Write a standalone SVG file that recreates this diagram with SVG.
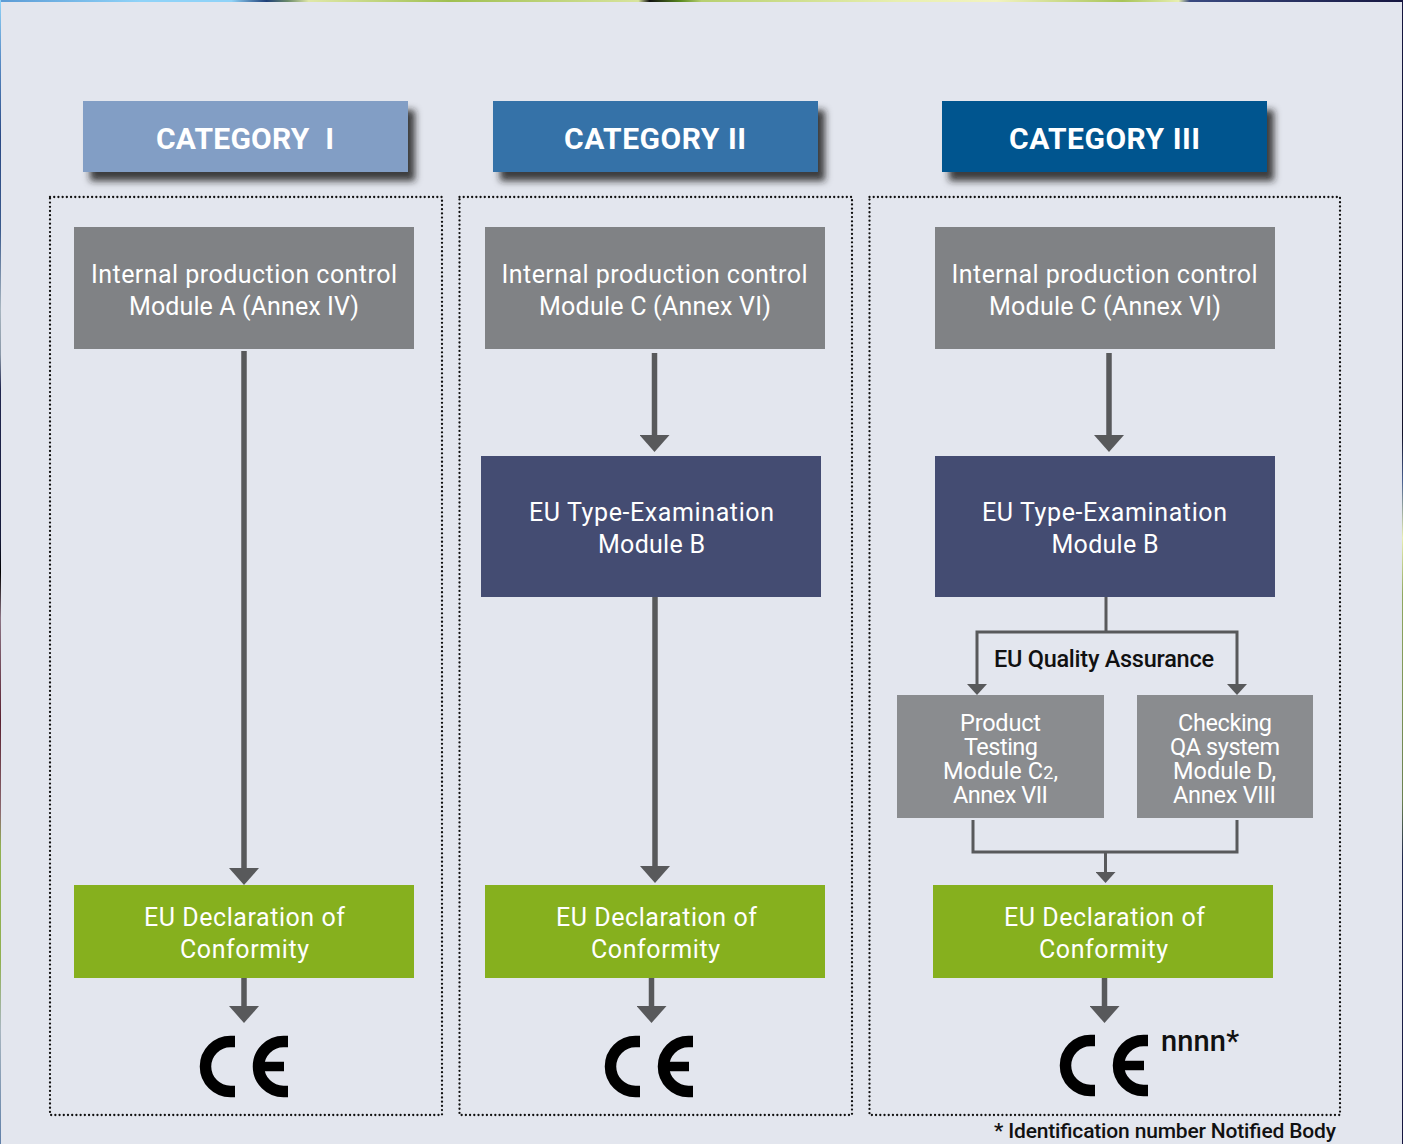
<svg xmlns="http://www.w3.org/2000/svg" width="1403" height="1144" viewBox="0 0 1403 1144">
<style>
text{font-family:Roboto,"Noto Sans","Liberation Sans",sans-serif;text-anchor:middle;fill:#fff;font-size:25px}
.cat{font-weight:700;font-size:30px}
.sm{font-size:23.500px}
.dark{fill:#111;font-weight:500}
.start{text-anchor:start}
.dots{fill:none;stroke:#111;stroke-width:2.300;stroke-linecap:round;stroke-dasharray:.01 4.200}
.grey{fill:#808285}.blue{fill:#444c72}.green{fill:#86b01e}.lgrey{fill:#8a8c8f}
.big{fill:none;stroke:#58595b;stroke-width:5.500;marker-end:url(#hl)}
.thin{fill:none;stroke:#58595b;stroke-width:3}
.tha{marker-end:url(#hs)}
.ce{fill:none;stroke:#000;stroke-width:11.500}
</style>
<defs>
<linearGradient id="gt"><stop offset="0" stop-color="#5b9bd5"/><stop offset=".1" stop-color="#8fd3f8"/><stop offset=".165" stop-color="#8fd3f8"/><stop offset=".19" stop-color="#1f3f78"/><stop offset=".205" stop-color="#6a8a6a"/><stop offset=".22" stop-color="#e0e8a8"/><stop offset=".32" stop-color="#9fbf50"/><stop offset=".455" stop-color="#d8e49c"/><stop offset=".463" stop-color="#111"/><stop offset=".485" stop-color="#5a8a20"/><stop offset=".5" stop-color="#b8d070"/><stop offset=".64" stop-color="#e8efb0"/><stop offset=".71" stop-color="#f2f3c0"/><stop offset=".8" stop-color="#a8c458"/><stop offset=".84" stop-color="#e8efb0"/><stop offset=".848" stop-color="#3a4a80"/><stop offset="1" stop-color="#161640"/></linearGradient>
<linearGradient id="gl" x1="0" y1="0" x2="0" y2="1"><stop offset="0" stop-color="#8fd3f8"/><stop offset=".05" stop-color="#5b8fc8"/><stop offset=".12" stop-color="#2b4a85"/><stop offset=".2" stop-color="#3a5a8c"/><stop offset=".27" stop-color="#a8b6c0"/><stop offset=".31" stop-color="#8a98a8"/><stop offset=".34" stop-color="#20264f"/><stop offset=".47" stop-color="#151a3a"/><stop offset=".5" stop-color="#000"/><stop offset=".54" stop-color="#8d7585"/><stop offset=".63" stop-color="#5a2030"/><stop offset=".71" stop-color="#8d6a70"/><stop offset=".74" stop-color="#90b050"/><stop offset=".84" stop-color="#90b050"/><stop offset=".9" stop-color="#a8b6c0"/><stop offset="1" stop-color="#5f7fa8"/></linearGradient>
<linearGradient id="gr" x1="0" y1="0" x2="0" y2="1"><stop offset="0" stop-color="#161640"/><stop offset=".38" stop-color="#12122a"/><stop offset=".42" stop-color="#4a6090"/><stop offset=".47" stop-color="#e8efb0"/><stop offset=".52" stop-color="#90a860"/><stop offset=".7" stop-color="#6a8050"/><stop offset=".75" stop-color="#20284f"/><stop offset="1" stop-color="#161640"/></linearGradient>
<filter id="sh" x="-10%" y="-20%" width="125%" height="160%"><feDropShadow dx="7" dy="9" stdDeviation="3.500" flood-color="#222" flood-opacity=".85"/></filter>
<marker id="hl" markerUnits="userSpaceOnUse" viewBox="0 0 17 30" markerWidth="17" markerHeight="30" refX="0" refY="15" orient="auto"><path d="M0 0L17 15L0 30z" fill="#58595b"/></marker>
<marker id="hs" markerUnits="userSpaceOnUse" viewBox="0 0 11 20" markerWidth="11" markerHeight="20" refX="0" refY="10" orient="auto"><path d="M0 0L11 10L0 20z" fill="#58595b"/></marker>
<g id="ce"><path class="ce" d="M35 5.500H30.500A25 25 0 0 0 30.500 55.500H35"/><path class="ce" d="M88 5.500H83.500A25 25 0 0 0 83.500 55.500H88"/><path d="M62 30.500H84" fill="none" stroke="#000" stroke-width="9.500"/></g>
</defs>
<rect width="1403" height="1144" fill="#e3e6ee"/>
<rect width="1403" height="2" fill="url(#gt)"/>
<rect width="1" height="1144" fill="url(#gl)"/>
<rect x="1402" width="1.500" height="1144" fill="url(#gr)"/>

<g id="frames">
<rect class="dots" x="50" y="197" width="392" height="918"/>
<rect class="dots" x="459.500" y="197" width="392.500" height="918"/>
<rect class="dots" x="869.500" y="197" width="470.500" height="918"/>
</g>

<g id="connectors">
<path class="big" d="M244 351V868"/>
<path class="big" d="M244 978V1006"/>
<path class="big" d="M654.500 353V435"/>
<path class="big" d="M655 597V866"/>
<path class="big" d="M651.500 978V1006"/>
<path class="big" d="M1109 353V435"/>
<path class="big" d="M1104.500 978V1006"/>
<path class="thin" d="M1106 597V632"/>
<path class="thin tha" d="M1106 632H977V684"/>
<path class="thin tha" d="M1106 632H1237V684"/>
<path class="thin" d="M973 820V852H1237V820"/>
<path class="thin tha" d="M1105.500 852V872"/>
</g>

<g id="cat1"><rect x="83" y="101" width="325" height="71" fill="#829ec5" filter="url(#sh)"/><text class="cat" x="245" y="149" textLength="178" word-spacing="8">CATEGORY I</text></g>
<g id="cat2"><rect x="493" y="101" width="325" height="71" fill="#3572a8" filter="url(#sh)"/><text class="cat" x="655" y="149" textLength="182">CATEGORY II</text></g>
<g id="cat3"><rect x="942" y="101" width="325" height="71" fill="#00548f" filter="url(#sh)"/><text class="cat" x="1104.500" y="149" textLength="191">CATEGORY III</text></g>

<g id="ipc1"><rect class="grey" x="74" y="227" width="340" height="122"/><text x="244" y="283" textLength="306">Internal production control</text><text x="244" y="315" textLength="230">Module A (Annex IV)</text></g>
<g id="ipc2"><rect class="grey" x="485" y="227" width="340" height="122"/><text x="654.500" y="283" textLength="306">Internal production control</text><text x="655" y="315" textLength="232">Module C (Annex VI)</text></g>
<g id="ipc3"><rect class="grey" x="935" y="227" width="340" height="122"/><text x="1104.500" y="283" textLength="306">Internal production control</text><text x="1105" y="315" textLength="232">Module C (Annex VI)</text></g>

<g id="type2"><rect class="blue" x="481" y="456" width="340" height="141"/><text x="651.500" y="521" textLength="245">EU Type-Examination</text><text x="651.500" y="553" textLength="107">Module B</text></g>
<g id="type3"><rect class="blue" x="935" y="456" width="340" height="141"/><text x="1104.500" y="521" textLength="245">EU Type-Examination</text><text x="1105" y="553" textLength="107">Module B</text></g>

<g id="qa-label"><text class="dark sm" x="1104" y="667" textLength="220">EU Quality Assurance</text></g>
<g id="c2"><rect class="lgrey" x="897" y="695" width="207" height="123"/>
<text class="sm"><tspan x="1000.500" y="731" textLength="81">Product</tspan><tspan x="1001" y="755" textLength="74">Testing</tspan><tspan x="1000.500" y="779" textLength="115">Module C<tspan font-size="18">2</tspan>,</tspan><tspan x="1000.500" y="803" textLength="95">Annex VII</tspan></text></g>
<g id="d"><rect class="lgrey" x="1137" y="695" width="176" height="123"/>
<text class="sm"><tspan x="1225" y="731" textLength="94">Checking</tspan><tspan x="1225" y="755" textLength="110">QA system</tspan><tspan x="1224.500" y="779" textLength="103">Module D,</tspan><tspan x="1224.500" y="803" textLength="103">Annex VIII</tspan></text></g>

<g id="doc1"><rect class="green" x="74" y="885" width="340" height="93"/><text x="244.500" y="926" textLength="201">EU Declaration of</text><text x="244.500" y="958" textLength="129">Conformity</text></g>
<g id="doc2"><rect class="green" x="485" y="885" width="340" height="93"/><text x="656.500" y="926" textLength="201">EU Declaration of</text><text x="655.500" y="958" textLength="129">Conformity</text></g>
<g id="doc3"><rect class="green" x="933" y="885" width="340" height="93"/><text x="1104.500" y="926" textLength="201">EU Declaration of</text><text x="1103.500" y="958" textLength="129">Conformity</text></g>

<g id="mark1"><use href="#ce" x="200" y="1036"/></g>
<g id="mark2"><use href="#ce" x="605" y="1036"/></g>
<g id="mark3"><use href="#ce" x="1060" y="1035"/><text class="dark start" x="1161" y="1051" style="font-size:29px" textLength="78">nnnn*</text></g>
<g id="note"><text class="dark start" x="994" y="1138" style="font-size:21px" textLength="342">* Identification number Notified Body</text></g>
</svg>
